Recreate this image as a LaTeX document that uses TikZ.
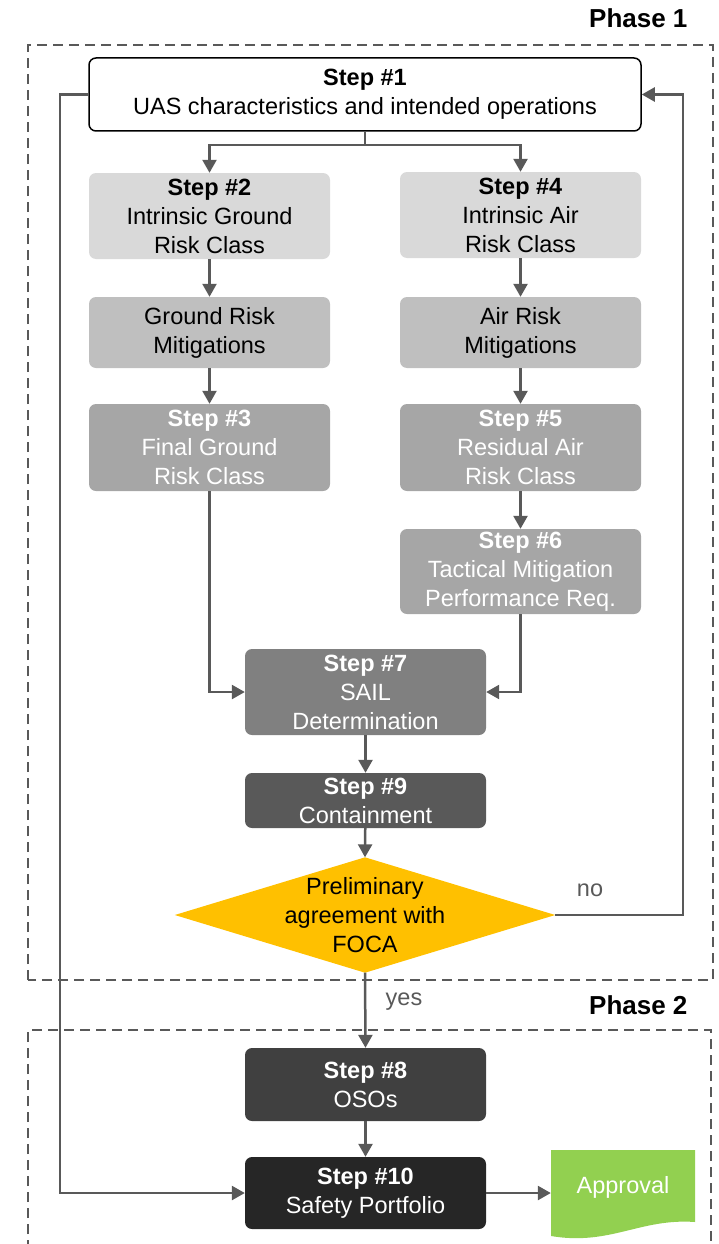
\documentclass[tikz,border=0pt]{standalone}
\usepackage{fontspec}
\setmainfont{Liberation Sans}
\usetikzlibrary{arrows.meta}
\definecolor{linec}{HTML}{595959}
\definecolor{cA}{HTML}{D9D9D9}
\definecolor{cB}{HTML}{BFBFBF}
\definecolor{cC}{HTML}{A6A6A6}
\definecolor{cD}{HTML}{808080}
\definecolor{cE}{HTML}{595959}
\definecolor{cF}{HTML}{404040}
\definecolor{cG}{HTML}{262626}
\definecolor{decis}{HTML}{FFC000}
\definecolor{appr}{HTML}{92D050}
\begin{document}
\begin{tikzpicture}[x=1pt,y=-1pt,
  box/.style={rounded corners=7pt, minimum width=241pt, inner sep=0pt, align=center,
    font=\fontsize{23.5}{29}\selectfont},
  conn/.style={draw=linec, line width=2.5pt, -{Triangle[length=13pt,width=14pt]}},
  plain/.style={draw=linec, line width=2.5pt},
  phase/.style={draw=linec, line width=2pt, dash pattern=on 10pt off 6pt},
  lbl/.style={font=\fontsize{23.5}{28}\selectfont, text=linec},
  phl/.style={font=\bfseries\fontsize{26}{30}\selectfont, anchor=east}]
\useasboundingbox (0,0) rectangle (718,1244);
% phase frames
\draw[phase] (28,980) -- (28,45) -- (713,45) -- (713,980) -- cycle;
\draw[phase] (28,1250) -- (28,1030) -- (711,1030) -- (711,1250);
\node[phl] (p1) at (691,18) {Phase 1};
\node[phl] (p2) at (691,1005) {Phase 2};
% nodes
\node[box, draw=black, line width=1.5pt, fill=white, minimum width=552pt, minimum height=73pt] (s1) at (365,94.5)
  {\textbf{Step \#1}\\UAS characteristics and intended operations};
\node[box, fill=cA, minimum height=86pt] (s2) at (209.5,216) {\textbf{Step \#2}\\Intrinsic Ground\\Risk Class};
\node[box, fill=cA, minimum height=86pt] (s4) at (520.5,215) {\textbf{Step \#4}\\Intrinsic Air\\Risk Class};
\node[box, fill=cB, minimum height=71pt] (gm) at (209.5,332.5) {Ground Risk\\Mitigations};
\node[box, fill=cB, minimum height=71pt] (am) at (520.5,332.5) {Air Risk\\Mitigations};
\node[box, fill=cC, text=white, minimum height=87pt] (s3) at (209.5,447.5) {\textbf{Step \#3}\\Final Ground\\Risk Class};
\node[box, fill=cC, text=white, minimum height=87pt] (s5) at (520.5,447.5) {\textbf{Step \#5}\\Residual Air\\Risk Class};
\node[box, fill=cC, text=white, minimum height=85pt] (s6) at (520.5,571.5) {\textbf{Step \#6}\\Tactical Mitigation\\Performance Req.};
\node[box, fill=cD, text=white, minimum height=86pt] (s7) at (365.5,692) {\textbf{Step \#7}\\SAIL\\Determination};
\node[box, fill=cE, text=white, minimum height=55pt] (s9) at (365.5,800.5) {\textbf{Step \#9}\\Containment};
% decision diamond (fixed size)
\node[inner sep=0pt, minimum width=380pt, minimum height=115pt] (d) at (365,915) {};
\fill[decis] (d.west) -- (d.north) -- (d.east) -- (d.south) -- cycle;
\node[align=center, font=\fontsize{23.5}{29}\selectfont, inner sep=0pt] (dt) at (d.center) {Preliminary\\agreement with\\FOCA};
\node[box, fill=cF, text=white, minimum height=73pt] (s8) at (365.5,1084.5) {\textbf{Step \#8}\\OSOs};
\node[box, fill=cG, text=white, minimum height=72pt] (s10) at (365.5,1193) {\textbf{Step \#10}\\Safety Portfolio};
\fill[appr] (551,1150) -- (695,1150) -- (695,1222) .. controls (640,1218) and (610,1246) .. (551,1236) -- cycle;
\node[font=\fontsize{23.5}{28}\selectfont, text=white, minimum width=144pt, minimum height=60pt] (ap) at (623,1187) {Approval};
% connectors
\coordinate (split) at (365,145);
\draw[plain] (s1.south) -- (split);
\draw[conn] (split) -| (s2.north);
\draw[conn] (split) -| (s4.north);
\draw[conn] (s2) -- (gm);
\draw[conn] (gm) -- (s3);
\draw[conn] (s4) -- (am);
\draw[conn] (am) -- (s5);
\draw[conn] (s5) -- (s6);
\draw[conn] (s3.south) |- (s7.west);
\draw[conn] (s6.south) |- (s7.east);
\draw[conn] (s7) -- (s9);
\draw[conn] (s9) -- (d.north);
\coordinate (nr) at (683,915);
\draw[conn] (d.east) -- (nr) |- (s1.east);
\node[lbl] (no) at (590,890) {no};
\draw[conn] (d.south) -- (s8.north);
\node[lbl] (yes) at (404,1002) {yes};
\coordinate (ll) at (60,94.5);
\draw[conn] (s1.west) -- (ll) |- (s10.west);
\draw[conn] (s8) -- (s10);
\draw[conn] (s10.east) -- (s10.east -| ap.west);
\end{tikzpicture}
\end{document}
